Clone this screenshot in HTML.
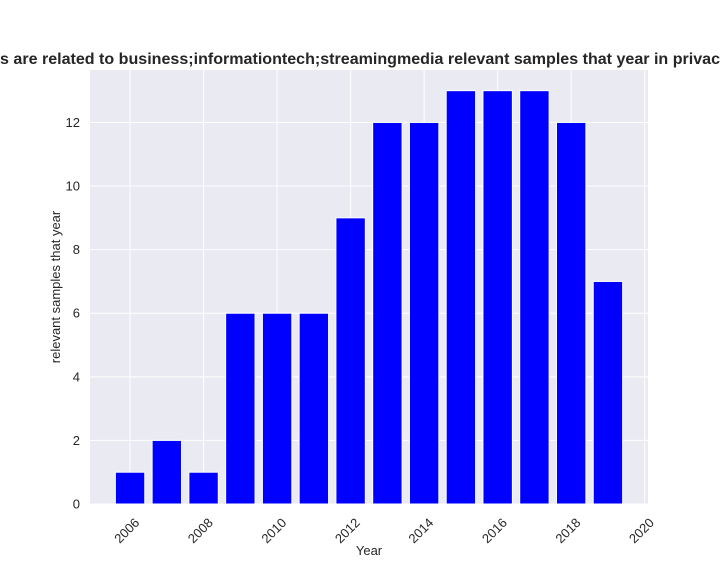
<!DOCTYPE html>
<html><head><meta charset="utf-8"><style>
body{margin:0;background:#fff;}
svg text{font-family:"Liberation Sans",Arial,sans-serif;fill:#262626;}
</style></head><body>
<svg id="chart" width="720" height="576" xmlns="http://www.w3.org/2000/svg">
<rect x="0" y="0" width="720" height="576" fill="#fff"/>
<text x="0" y="64" font-size="16" font-weight="bold" textLength="720" lengthAdjust="spacingAndGlyphs">s are related to business;informationtech;streamingmedia relevant samples that year in privac</text>
<rect x="90" y="70" width="558" height="434" fill="#eaeaf2"/>
<g id="grid"></g><g id="bars"></g><g id="ticks"></g>
<text x="369" y="555" font-size="13" text-anchor="middle">Year</text>
<text transform="translate(60,287) rotate(-90)" font-size="13" text-anchor="middle">relevant samples that year</text>
</svg>
<script>
const years=[2006,2007,2008,2009,2010,2011,2012,2013,2014,2015,2016,2017,2018,2019];
const counts=[1,2,1,6,6,6,9,12,12,13,13,13,12,7];
const xTicks=[2006,2008,2010,2012,2014,2016,2018,2020];
const yTicks=[0,2,4,6,8,10,12];
const NS="http://www.w3.org/2000/svg";
const L=90,R=648,T=70,B=504;
const xmin=2004.91,xmax=2020.09,ymax=13.65;
const xs=v=>L+(v-xmin)/(xmax-xmin)*(R-L);
const ys=v=>B-v/ymax*(B-T);
function mk(tag,attrs,parent){const e=document.createElementNS(NS,tag);for(const k in attrs)e.setAttribute(k,attrs[k]);parent.appendChild(e);return e;}
const grid=document.getElementById('grid'),bars=document.getElementById('bars'),ticks=document.getElementById('ticks');
xTicks.forEach(t=>{
 const l=mk('line',{x1:xs(t),x2:xs(t),y1:T,y2:B,stroke:'#fff','stroke-width':1},grid);
 
 
 const x=xs(t)+5,y=B+15;
 const tx=mk('text',{x:x,y:y,'font-size':13,'text-anchor':'end',transform:`rotate(-45 ${x+8} ${y-4})`},ticks);
 tx.textContent=t;
 
 
});
yTicks.forEach(t=>{
 const l=mk('line',{x1:L,x2:R,y1:ys(t),y2:ys(t),stroke:'#fff','stroke-width':1},grid);
 
 
 const tx=mk('text',{x:80,y:ys(t)+4.5,'font-size':13,'text-anchor':'end'},ticks);
 tx.textContent=t;
 
 
});
const w=0.8*(R-L)/(xmax-xmin);
years.forEach((yr,i)=>{
 const r=mk('rect',{x:xs(yr)-w/2,y:ys(counts[i]),width:w,height:B-ys(counts[i]),fill:'#0000ff',stroke:'#fff','stroke-width':1},bars);
 
 
});
</script>
</body></html>
